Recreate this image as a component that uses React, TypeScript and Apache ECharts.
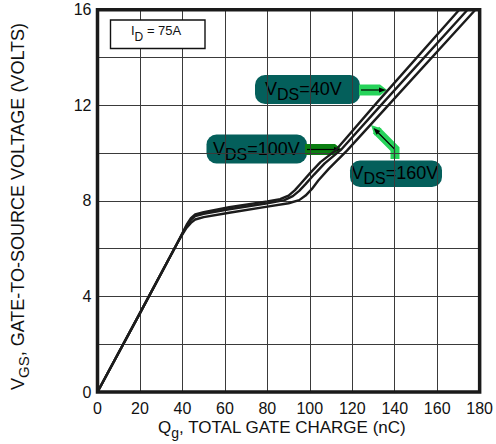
import React, { useEffect, useRef } from "react";
import * as echarts from "echarts";

// Gate charge axis (nC) and gate voltage axis (V)
const chargeTicks = [0, 20, 40, 60, 80, 100, 120, 140, 160, 180];
const voltageTicks = [0, 4, 8, 12, 16];

// V_GS vs Q_g curves, one per drain-source voltage, I_D = 75 A
const vds40: [number, number][] = [
  [0, 0], [20, 3.3], [38, 6.3], [40, 6.65], [42, 7.0], [44, 7.28], [46, 7.43],
  [50, 7.53], [62, 7.73], [80, 7.98], [86, 8.07], [90, 8.22], [93, 8.45],
  [96, 8.75], [100, 9.15], [105, 9.62], [112, 10.1], [131.5, 12.1], [170.4, 16],
];
const vds100: [number, number][] = [
  [0, 0], [20, 3.3], [38, 6.3], [40, 6.63], [42, 6.96], [44, 7.2], [46, 7.36],
  [50, 7.46], [62, 7.65], [80, 7.9], [88, 8.03], [92, 8.2], [95, 8.42],
  [98, 8.7], [102, 9.1], [107, 9.57], [114.5, 10.12], [134.5, 12.1], [174.3, 16],
];
const vds160: [number, number][] = [
  [0, 0], [20, 3.3], [38, 6.3], [40, 6.6], [42, 6.88], [44, 7.08], [46, 7.22],
  [50, 7.32], [62, 7.5], [80, 7.76], [90, 7.9], [95, 8.03], [98, 8.22],
  [101, 8.5], [104, 8.85], [109, 9.35], [117.5, 10.1], [138, 12.1], [178, 16],
];
const curveLabels = ["40V", "100V", "160V"];
const drainCurrentLabel = "75A";

const FONT = '"Liberation Sans", Arial, Helvetica, sans-serif';

type Piece = { t: string; size: number; dy?: number };

let measureCtx: CanvasRenderingContext2D | null = null;
function textWidth(t: string, size: number): number {
  if (!measureCtx) measureCtx = document.createElement("canvas").getContext("2d");
  if (!measureCtx) return t.length * size * 0.6;
  measureCtx.font = `${size}px ${FONT}`;
  return measureCtx.measureText(t).width;
}

// Lays text pieces (e.g. subscripts) along a common baseline
function pieceTexts(pieces: Piece[], x: number, baseline: number, fill: string) {
  const out: any[] = [];
  let cx = x;
  for (const p of pieces) {
    out.push({
      type: "text",
      x: cx,
      y: baseline + (p.dy || 0) - 0.35 * p.size,
      silent: true,
      style: {
        text: p.t,
        font: `${p.size}px ${FONT}`,
        fill,
        textAlign: "left",
        textVerticalAlign: "middle",
        verticalAlign: "middle",
      },
    });
    cx += textWidth(p.t, p.size);
  }
  return out;
}

function vdsLabel(value: string, boxX: number, boxY: number, boxW: number, boxH: number, textX: number, baseline: number) {
  const pieces: Piece[] = [
    { t: "V", size: 18 },
    { t: "DS", size: 16, dy: 5.5 },
    { t: "=" + value, size: 18 },
  ];
  return [
    {
      type: "rect",
      shape: { x: boxX, y: boxY, width: boxW, height: boxH, r: 10 },
      style: { fill: "#045f5b" },
      silent: true,
    },
    ...pieceTexts(pieces, textX, baseline, "#000"),
  ];
}

function arrowHead(tipX: number, tipY: number, angle: number, len = 7, half = 2.6) {
  const ca = Math.cos(angle), sa = Math.sin(angle);
  const bx = tipX - len * ca, by = tipY - len * sa;
  return {
    type: "polygon",
    silent: true,
    shape: {
      points: [
        [tipX, tipY],
        [bx - half * sa, by + half * ca],
        [bx + half * sa, by - half * ca],
      ],
    },
    style: { fill: "#000" },
  };
}

export default function App() {
  const ref = useRef<HTMLDivElement>(null);

  useEffect(() => {
    if (!ref.current) return;
    const chart = echarts.init(ref.current, undefined, { renderer: "svg" });

    const lineSeries = [vds40, vds100, vds160].map((d, i) => ({
      type: "line",
      name: "VDS=" + curveLabels[i],
      data: d,
      showSymbol: false,
      symbol: "none",
      clip: true,
      lineStyle: { color: "#1c1c1c", width: 2.4 },
      z: 3,
    }));

    // Axis titles
    const xTitle: Piece[] = [
      { t: "Q", size: 17 },
      { t: "g", size: 14, dy: 5 },
      { t: ", TOTAL GATE CHARGE (nC)", size: 17 },
    ];
    const yTitle: Piece[] = [
      { t: "V", size: 18 },
      { t: "GS", size: 15, dy: 5 },
      { t: ", GATE-TO-SOURCE VOLTAGE (VOLTS)", size: 18 },
    ];

    const idPieces: Piece[] = [
      { t: "I", size: 13 },
      { t: "D", size: 12, dy: 6 },
      { t: " = " + drainCurrentLabel, size: 13 },
    ];

    const graphic: any[] = [
      // I_D annotation box
      {
        type: "rect",
        shape: { x: 110.5, y: 20, width: 94.5, height: 28.5 },
        style: { fill: "#fff", stroke: "#111", lineWidth: 1.4 },
        silent: true,
        z: 10,
      },
      ...pieceTexts(idPieces, 131, 35, "#111").map((e) => ({ ...e, z: 11 })),

      // V_DS = 40V label and arrow
      ...vdsLabel(curveLabels[0], 255, 75, 105, 29, 265, 95),
      {
        type: "polygon",
        silent: true,
        shape: { points: [[359, 84.5], [380, 84.5], [387, 90], [380, 95.5], [359, 95.5]] },
        style: { fill: "#26d35a" },
      },
      { type: "line", silent: true, shape: { x1: 361, y1: 90, x2: 380, y2: 90 }, style: { stroke: "#000", lineWidth: 1.2 } },
      arrowHead(386, 90, 0),

      // V_DS = 100V label and arrow
      ...vdsLabel(curveLabels[1], 206.5, 134.5, 100.5, 29, 213, 155),
      {
        type: "polygon",
        silent: true,
        shape: { points: [[305, 144], [335, 144], [342, 149.5], [335, 155], [305, 155]] },
        style: { fill: "#0b7f12" },
      },
      { type: "line", silent: true, shape: { x1: 307, y1: 149.5, x2: 335, y2: 149.5 }, style: { stroke: "#000", lineWidth: 1.2 } },
      arrowHead(341, 149.5, 0),

      // V_DS = 160V label and arrow
      {
        type: "polyline",
        silent: true,
        shape: { points: [[395, 159], [395, 149], [376, 130]] },
        style: { stroke: "#26d35a", lineWidth: 9, lineJoin: "miter", fill: null },
      },
      {
        type: "polygon",
        silent: true,
        shape: { points: [[371, 125], [381.5, 128.5], [374.5, 135.5]] },
        style: { fill: "#26d35a" },
      },
      ...vdsLabel(curveLabels[2], 350, 160.5, 92, 26.5, 351.5, 179),
      {
        type: "polyline",
        silent: true,
        shape: { points: [[394.5, 158], [394.5, 149], [378, 132.5]] },
        style: { stroke: "#000", lineWidth: 1.2, fill: null },
      },
      arrowHead(373.5, 128, (-135 * Math.PI) / 180),

      // X axis title
      ...pieceTexts(xTitle, 158, 433, "#111"),
      // Y axis title, rotated to read bottom-to-top
      {
        type: "group",
        x: 24,
        y: 390,
        rotation: Math.PI / 2,
        silent: true,
        children: pieceTexts(yTitle, 0, 0, "#111"),
      },
    ];

    chart.setOption({
      animation: false,
      backgroundColor: "#fff",
      textStyle: { fontFamily: FONT },
      grid: {
        left: 97.5,
        right: 14.3,
        top: 9.7,
        bottom: 52,
        show: true,
        borderColor: "#1a1a1a",
        borderWidth: 3.5,
        backgroundColor: "transparent",
        z: 5,
      },
      xAxis: {
        type: "value",
        min: chargeTicks[0],
        max: chargeTicks[chargeTicks.length - 1],
        interval: chargeTicks[1] - chargeTicks[0],
        axisLine: { show: false },
        axisTick: { show: false },
        splitLine: { show: true, lineStyle: { color: "#3a3a3a", width: 1 } },
        axisLabel: { color: "#111", fontSize: 16, margin: 8, fontFamily: FONT },
      },
      yAxis: {
        type: "value",
        min: voltageTicks[0],
        max: voltageTicks[voltageTicks.length - 1],
        interval: 2,
        axisLine: { show: false },
        axisTick: { show: false },
        splitLine: { show: true, lineStyle: { color: "#3a3a3a", width: 1 } },
        axisLabel: {
          color: "#111",
          fontSize: 16,
          margin: 6,
          fontFamily: FONT,
          formatter: (v: number) => (voltageTicks.includes(v) ? String(v) : ""),
        },
      },
      series: lineSeries,
      graphic,
    });

    return () => chart.dispose();
  }, []);

  return (
    <div
      ref={ref}
      style={{ position: "fixed", left: 0, top: 0, width: 496, height: 444, background: "#fff" }}
    />
  );
}
